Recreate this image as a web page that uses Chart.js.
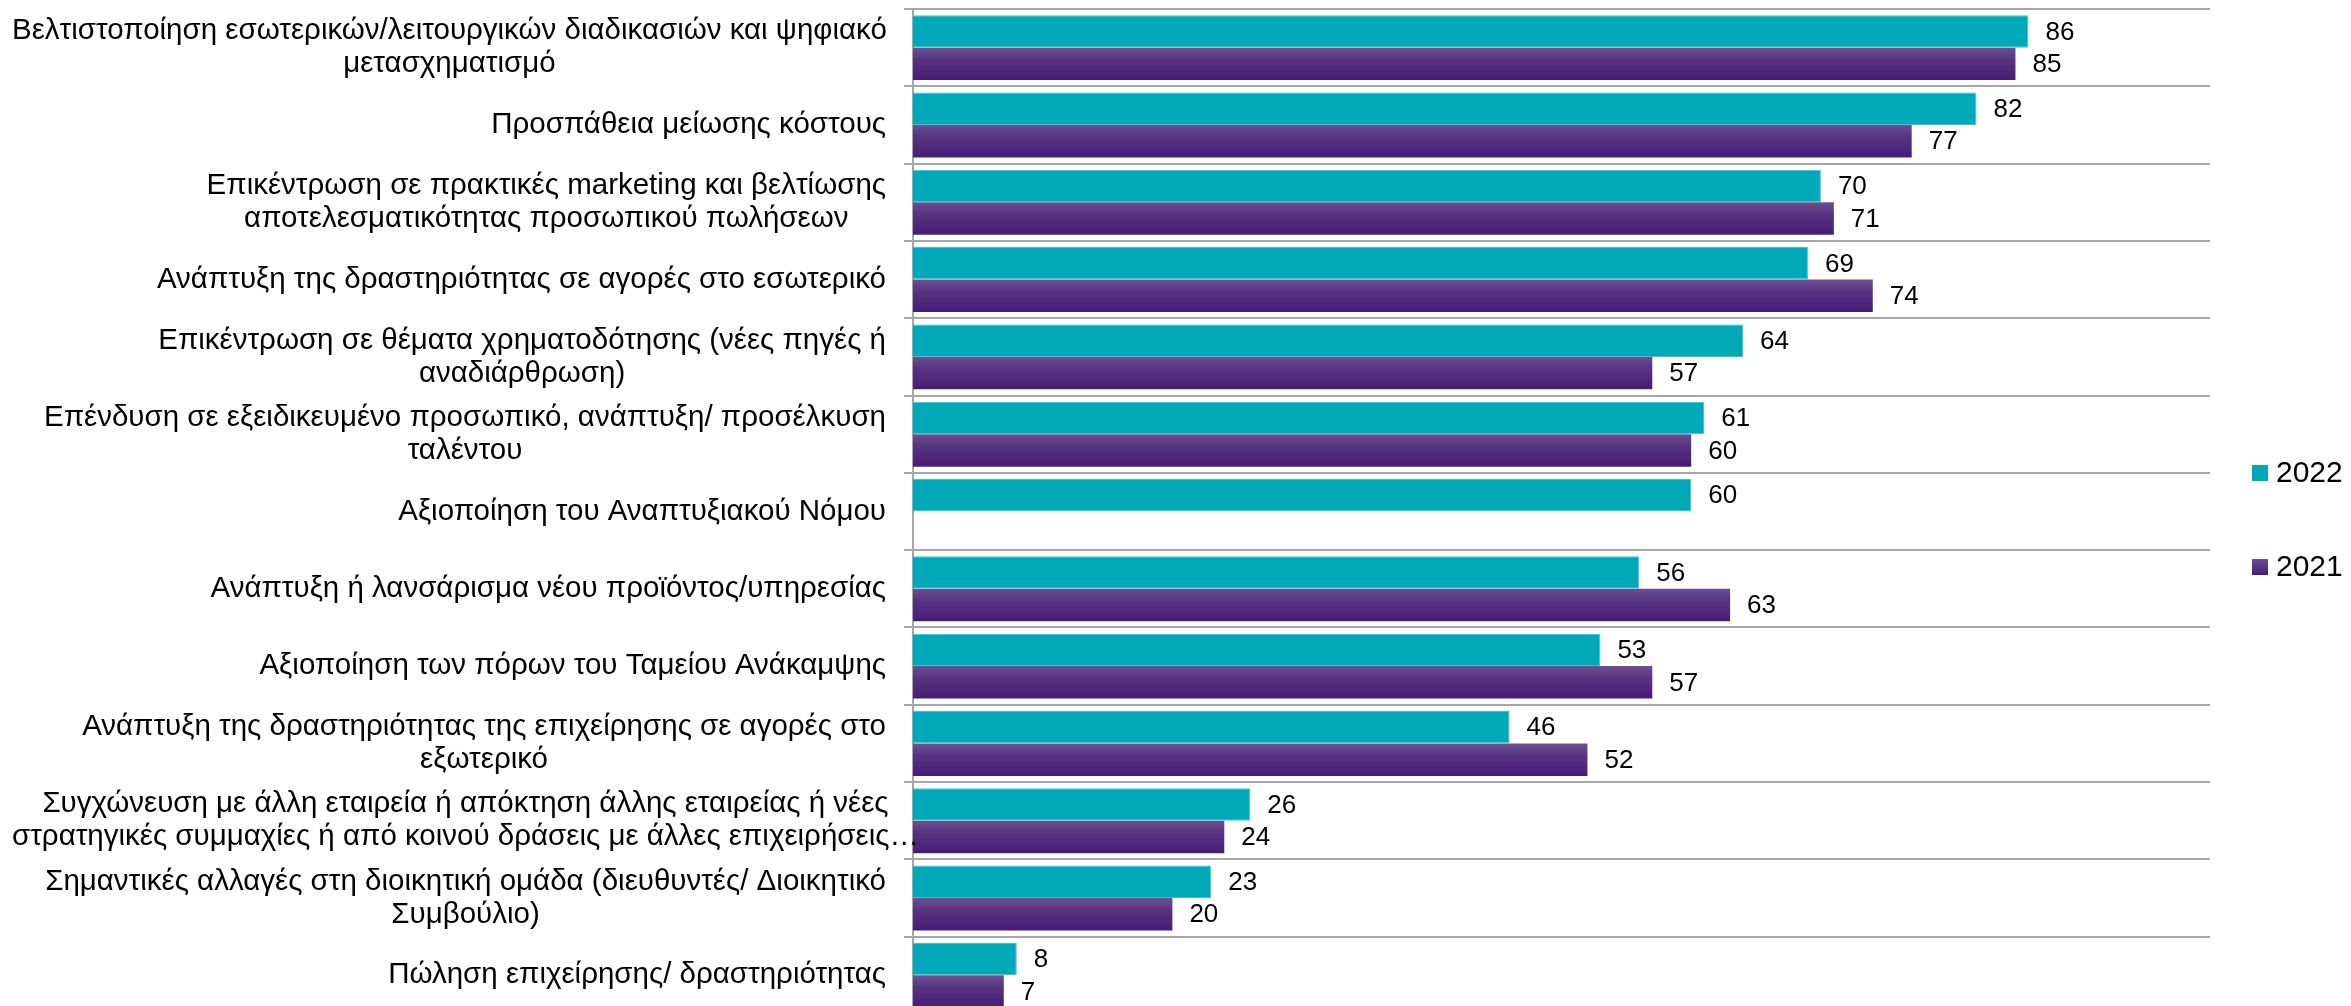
<!DOCTYPE html>
<html>
<head>
<meta charset="utf-8">
<script src="https://cdn.jsdelivr.net/npm/chart.js@4.4.0/dist/chart.umd.min.js"></script>
<style>
  html, body { margin: 0; padding: 0; background: #ffffff; overflow: hidden; }
  #wrap { width: 2351px; height: 1016px; }
</style>
</head>
<body>
<div id="wrap"><canvas id="c" width="2351" height="1016"></canvas></div>
<script>
const categories = [
  ["Βελτιστοποίηση εσωτερικών/λειτουργικών διαδικασιών και ψηφιακό", "μετασχηματισμό"],
  ["Προσπάθεια μείωσης κόστους"],
  ["Επικέντρωση σε πρακτικές marketing και βελτίωσης", "αποτελεσματικότητας προσωπικού πωλήσεων"],
  ["Ανάπτυξη της δραστηριότητας σε αγορές στο εσωτερικό"],
  ["Επικέντρωση σε θέματα χρηματοδότησης (νέες πηγές ή", "αναδιάρθρωση)"],
  ["Επένδυση σε εξειδικευμένο προσωπικό, ανάπτυξη/ προσέλκυση", "ταλέντου"],
  ["Αξιοποίηση του Αναπτυξιακού Νόμου"],
  ["Ανάπτυξη ή λανσάρισμα νέου προϊόντος/υπηρεσίας"],
  ["Αξιοποίηση των πόρων του Ταμείου Ανάκαμψης"],
  ["Ανάπτυξη της δραστηριότητας της επιχείρησης σε αγορές στο", "εξωτερικό"],
  ["Συγχώνευση με άλλη εταιρεία ή απόκτηση άλλης εταιρείας ή νέες", "στρατηγικές συμμαχίες ή από κοινού δράσεις με άλλες επιχειρήσεις…"],
  ["Σημαντικές αλλαγές στη διοικητική ομάδα (διευθυντές/ Διοικητικό", "Συμβούλιο)"],
  ["Πώληση επιχείρησης/ δραστηριότητας"]
];
const seriesNames = ["2022", "2021"];
const values2022 = [86, 82, 70, 69, 64, 61, 60, 56, 53, 46, 26, 23, 8];
const values2021 = [85, 77, 71, 74, 57, 60, null, 63, 57, 52, 24, 20, 7];

const TEAL = "#00A9B7";
const PURPLE_TOP = "#6B5092";
const PURPLE_BOTTOM = "#461C76";
const LABEL_FONT = "29.5px 'Liberation Sans Narrow', 'Liberation Sans', Arial, sans-serif";
const VALUE_FONT = "26px 'Liberation Sans', Arial, sans-serif";
const LEGEND_FONT = "30px 'Liberation Sans', Arial, sans-serif";

function purpleGradient(ctx) {
  const chart = ctx.chart;
  const ys = chart.scales.y;
  if (!ys || ctx.dataIndex === undefined) return PURPLE_BOTTOM;
  const center = ys.getPixelForValue(ctx.dataIndex);
  const catH = ys.height / categories.length;
  const h = catH * 0.84 / 2;
  if (!isFinite(center) || !isFinite(h) || h <= 0) return PURPLE_BOTTOM;
  const g = chart.ctx.createLinearGradient(0, center, 0, center + h);
  g.addColorStop(0, PURPLE_TOP);
  g.addColorStop(0.35, "#57357F");
  g.addColorStop(1, PURPLE_BOTTOM);
  return g;
}

const labelPlugin = {
  id: "catLabels",
  afterDraw(chart) {
    const c = chart.ctx;
    const ys = chart.scales.y;
    const xr = 886;
    const avail = 874;
    const lh = 33;
    c.save();
    c.font = LABEL_FONT;
    c.fillStyle = "#000000";
    c.textAlign = "center";
    c.textBaseline = "middle";
    categories.forEach((lines, i) => {
      const y = ys.getPixelForTick(i);
      let maxW = 0;
      lines.forEach(l => { maxW = Math.max(maxW, c.measureText(l).width); });
      let cx;
      if (maxW <= avail) cx = xr - maxW / 2;
      else cx = Math.max(xr - avail / 2, maxW / 2 + 12);
      const y0 = y - (lines.length - 1) * lh / 2;
      lines.forEach((l, k) => c.fillText(l, cx, y0 + k * lh));
    });
    c.restore();
  }
};

const valuePlugin = {
  id: "valueLabels",
  afterDatasetsDraw(chart) {
    const c = chart.ctx;
    c.save();
    c.font = VALUE_FONT;
    c.fillStyle = "#000000";
    c.textAlign = "left";
    c.textBaseline = "middle";
    chart.data.datasets.forEach((ds, di) => {
      const meta = chart.getDatasetMeta(di);
      meta.data.forEach((bar, i) => {
        const v = ds.data[i];
        if (v === null || v === undefined) return;
        c.fillText(String(v), bar.x + 17, bar.y + 1);
      });
    });
    c.restore();
  }
};

const legendPlugin = {
  id: "sideLegend",
  afterDraw(chart) {
    const c = chart.ctx;
    const items = [
      { text: seriesNames[0], y: 473, fill: TEAL },
      { text: seriesNames[1], y: 567, fill: null }
    ];
    c.save();
    c.font = LEGEND_FONT;
    c.textBaseline = "middle";
    c.textAlign = "left";
    items.forEach(it => {
      let f = it.fill;
      if (!f) {
        const g = c.createLinearGradient(0, it.y - 8, 0, it.y + 8);
        g.addColorStop(0, PURPLE_TOP);
        g.addColorStop(1, PURPLE_BOTTOM);
        f = g;
      }
      c.fillStyle = f;
      c.fillRect(2252, it.y - 8, 16, 16);
      c.fillStyle = "#000000";
      c.fillText(it.text, 2276, it.y + 1);
    });
    c.restore();
  }
};

new Chart(document.getElementById("c"), {
  type: "bar",
  data: {
    labels: categories,
    datasets: [
      { label: seriesNames[0], data: values2022, backgroundColor: TEAL, borderColor: "#3FC3CC", borderWidth: 1,
        categoryPercentage: 0.84, barPercentage: 1.0 },
      { label: seriesNames[1], data: values2021, backgroundColor: purpleGradient, borderWidth: 0,
        categoryPercentage: 0.84, barPercentage: 1.0 }
    ]
  },
  options: {
    indexAxis: "y",
    responsive: false,
    animation: false,
    devicePixelRatio: 1,
    layout: { padding: { top: 9, right: 141, bottom: 2, left: 0 } },
    plugins: { legend: { display: false }, tooltip: { enabled: false } },
    scales: {
      x: { display: false, min: 0, max: 100 },
      y: {
        offset: true,
        ticks: { display: false },
        grid: { display: true, offset: true, color: "#A6A6A6", lineWidth: 2, drawTicks: true, tickLength: 9 },
        border: { display: true, color: "#A6A6A6", width: 2 },
        afterFit(scale) { scale.width = 913; }
      }
    }
  },
  plugins: [labelPlugin, valuePlugin, legendPlugin]
});
</script>
</body>
</html>
